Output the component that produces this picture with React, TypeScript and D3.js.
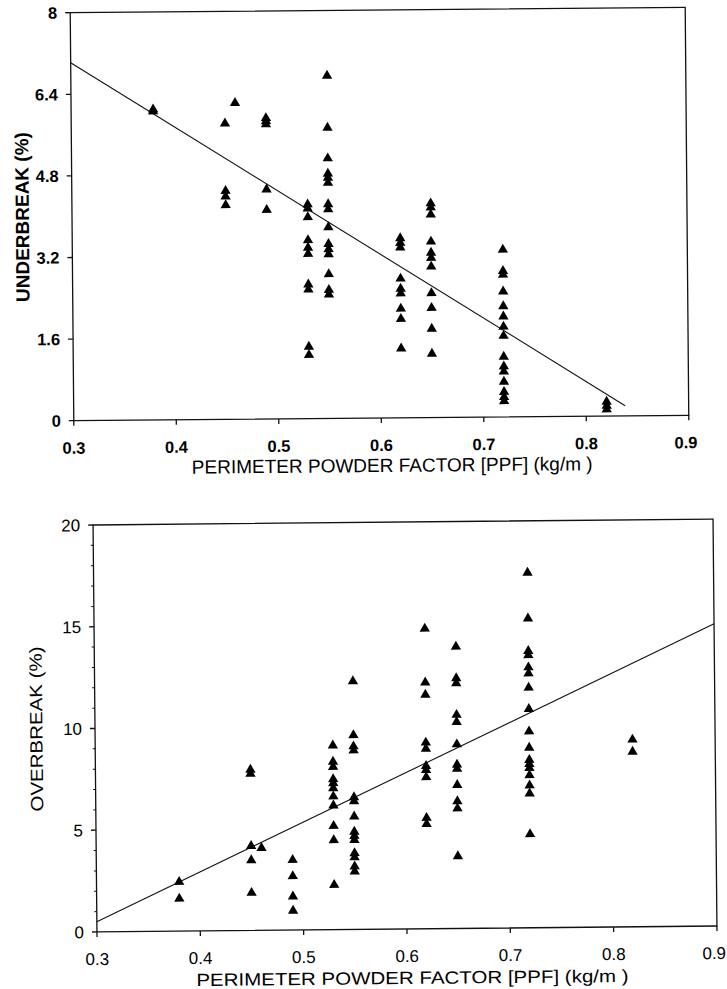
import React from "react";
import * as d3 from "d3";

// ---------- DATA ----------
const xTicks = [0.3, 0.4, 0.5, 0.6, 0.7, 0.8, 0.9];
const underTicks = [0, 1.6, 3.2, 4.8, 6.4, 8];
const overTicks = [0, 5, 10, 15, 20];
const overMinorTicks = [1, 2, 3, 4, 6, 7, 8, 9, 11, 12, 13, 14, 16, 17, 18, 19];

const underbreakPPF = [0.38, 0.45, 0.46, 0.49, 0.53, 0.55, 0.62, 0.65, 0.72, 0.82];
const underbreakValues = [
  [6.05, 6.09],
  [5.8, 4.48, 4.37, 4.2],
  [6.2],
  [5.9, 5.84, 5.78, 4.5, 4.1],
  [4.2, 4.12, 3.95, 3.5, 3.35, 3.23, 2.63, 2.53, 1.41, 1.25],
  [6.72, 5.7, 5.1, 4.8, 4.72, 4.62, 4.2, 4.1, 3.75, 3.42, 3.32, 3.22, 2.83, 2.52, 2.43],
  [3.52, 3.43, 3.34, 2.73, 2.53, 2.44, 2.14, 1.94, 1.36],
  [4.2, 4.12, 3.98, 3.45, 3.23, 3.13, 2.96, 2.44, 2.15, 1.74, 1.25],
  [3.28, 2.86, 2.79, 2.46, 2.17, 1.97, 1.77, 1.59, 1.18, 0.99, 0.89, 0.69, 0.49, 0.39, 0.31],
  [0.28, 0.2, 0.13],
];
const underbreakFitX = [0.3, 0.838];
const underbreakFitY = [7.02, 0.2];

const overbreakPPF = [0.38, 0.45, 0.46, 0.49, 0.53, 0.55, 0.62, 0.65, 0.72, 0.82];
const overbreakValues = [
  [2.42, 1.6],
  [7.9, 7.7, 4.15, 3.45, 1.85],
  [4.05],
  [3.45, 2.65, 1.65, 0.95],
  [9.05, 8.25, 8.0, 7.4, 7.2, 6.95, 6.55, 6.1, 5.1, 4.4, 2.2],
  [12.2, 9.55, 9.0, 8.8, 6.5, 6.3, 5.55, 4.8, 4.6, 4.4, 3.75, 3.55, 3.1, 2.85],
  [14.75, 12.1, 11.5, 9.15, 8.85, 8.0, 7.8, 7.45, 5.45, 5.15],
  [13.85, 12.3, 12.05, 10.5, 10.15, 9.05, 8.05, 7.85, 7.05, 6.25, 5.9, 3.55],
  [17.45, 15.2, 13.6, 13.4, 12.8, 12.5, 11.8, 10.75, 9.65, 8.85, 8.25, 8.05, 7.85, 7.5, 7.0, 6.6, 4.6],
  [9.2, 8.6],
];
const overbreakFitX = [0.3, 0.9];
const overbreakFitY = [0.5, 14.85];

const xTitle = "PERIMETER POWDER FACTOR [PPF] (kg/m )";

const FONT = "'Liberation Sans', Arial, sans-serif";

type PanelProps = {
  left: number; right: number; top: number; bottom: number; angle: number;
  yMax: number; yTicks: number[]; yMinor: number[];
  cols: number[]; vals: number[][]; fitX: number[]; fitY: number[];
  yLabel: string; yLabelX: number; yLabelBold: boolean; labelSize: number; labelSquash: number;
  tickBold: boolean; tickSize: number; titleX: number; titleY: number; fmt: (v: number) => string;
};

function Panel(p: PanelProps) {
  const x = d3.scaleLinear().domain([0.3, 0.9]).range([p.left, p.right]);
  const y = d3.scaleLinear().domain([0, p.yMax]).range([p.bottom, p.top]);
  const cx = (p.left + p.right) / 2;
  const cy = (p.top + p.bottom) / 2;
  const tri = d3.symbol().type(d3.symbolTriangle).size(46)() as string;
  const pts: { x: number; y: number }[] = [];
  p.cols.forEach((c, i) => p.vals[i].forEach((v) => pts.push({ x: c, y: v })));
  const fit = d3.line<number>().x((d) => x(d)).y((_, i) => y(p.fitY[i]))(p.fitX) as string;
  const fw = p.tickBold ? "bold" : "normal";
  return (
    <g transform={`rotate(${p.angle} ${cx} ${cy})`} fontFamily={FONT} fill="#000">
      <rect x={p.left} y={p.top} width={p.right - p.left} height={p.bottom - p.top}
        fill="none" stroke="#111" strokeWidth={1.3} />
      {xTicks.map((t) => (
        <g key={"xt" + t}>
          <line x1={x(t)} x2={x(t)} y1={p.bottom} y2={p.bottom + 5} stroke="#111" strokeWidth={1.3} />
          <text x={x(t) - (t === 0.9 ? 3 : 0)} y={p.bottom + 33} textAnchor="middle" fontSize={p.tickSize} fontWeight={fw}>
            {t.toFixed(1)}
          </text>
        </g>
      ))}
      {p.yTicks.map((t) => (
        <g key={"yt" + t}>
          <line x1={p.left - 5} x2={p.left} y1={y(t)} y2={y(t)} stroke="#111" strokeWidth={1.3} />
          <text x={p.left - 13} y={y(t)} dy="0.36em" textAnchor="end" fontSize={p.tickSize} fontWeight={fw}>
            {p.fmt(t)}
          </text>
        </g>
      ))}
      {p.yMinor.map((t) => (
        <line key={"ym" + t} x1={p.left - 2.5} x2={p.left} y1={y(t)} y2={y(t)} stroke="#111" strokeWidth={1} />
      ))}
      <path d={fit} fill="none" stroke="#111" strokeWidth={1.1} />
      {pts.map((d, i) => (
        <path key={i} d={tri} transform={`translate(${x(d.x)},${y(d.y)})`} fill="#000" />
      ))}
      <text transform={`translate(${p.yLabelX},${cy}) rotate(-90) scale(1,${p.labelSquash})`} textAnchor="middle" dy="0.36em"
        fontSize={p.labelSize} fontWeight={p.yLabelBold ? "bold" : "normal"}>
        {p.yLabel}
      </text>
      <text transform={`translate(${p.titleX},${p.titleY}) scale(1,${p.labelSquash})`} textAnchor="middle"
        fontSize={p.labelSize} style={{ whiteSpace: "pre" }}>
        {xTitle}
      </text>
    </g>
  );
}

export default function App() {
  return (
    <svg width={727} height={989} style={{ position: "absolute", left: 0, top: 0, background: "#fff" }}>
      <rect width={727} height={989} fill="#fff" />
      <Panel left={72} right={687} top={10} bottom={418} angle={-0.5}
        yMax={8} yTicks={underTicks} yMinor={[]}
        cols={underbreakPPF} vals={underbreakValues} fitX={underbreakFitX} fitY={underbreakFitY}
        yLabel="UNDERBREAK (%)" yLabelX={22} yLabelBold={true} labelSize={19} labelSquash={1}
        tickBold={true} tickSize={16.5}
        titleX={390} titleY={472} fmt={(v) => (v === 0 || v === 8 ? String(v) : v.toFixed(1))} />
      <Panel left={95} right={715} top={522} bottom={929} angle={-0.55}
        yMax={20} yTicks={overTicks} yMinor={overMinorTicks}
        cols={overbreakPPF} vals={overbreakValues} fitX={overbreakFitX} fitY={overbreakFitY}
        yLabel="OVERBREAK (%)" yLabelX={36} yLabelBold={false} labelSize={20.5} labelSquash={0.86}
        tickBold={false} tickSize={17}
        titleX={410} titleY={984} fmt={(v) => String(v)} />
    </svg>
  );
}
